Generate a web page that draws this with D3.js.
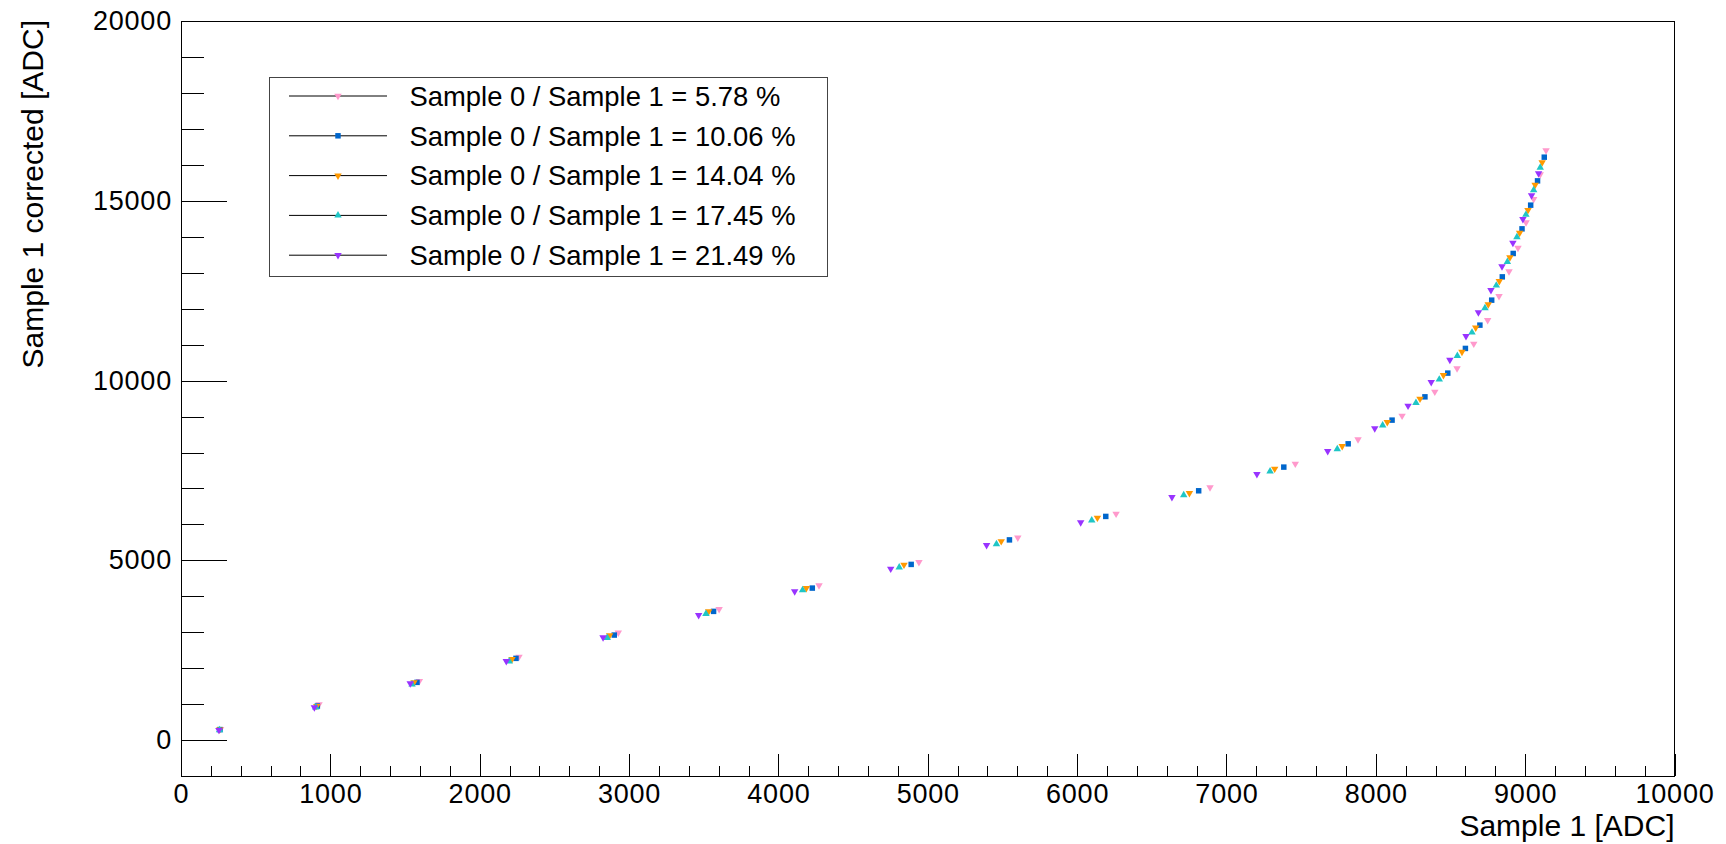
<!DOCTYPE html>
<html>
  <head>
    <meta charset="utf-8">
    <title>Sample 1 corrected vs Sample 1</title>
    <script src="https://d3js.org/d3.v7.min.js"></script>
    <style>
      body { margin: 0; background: #fff; }
      text { font-family: "Liberation Sans", Arial, Helvetica, sans-serif; fill: #000; }
      .axis path.domain { display: none; }
      .axis line { stroke: #000; shape-rendering: crispEdges; }
      .axis text { font-size: 27px; letter-spacing: 0.8px; }
      .title { font-size: 30px; }
      .legend text { font-size: 27.4px; }
    </style>
  </head>
  <body>
    <svg width="1726" height="844"></svg>
    <script>
      // legend labels, one per series
      var labels = [
        "Sample 0 / Sample 1 = 5.78 %",
        "Sample 0 / Sample 1 = 10.06 %",
        "Sample 0 / Sample 1 = 14.04 %",
        "Sample 0 / Sample 1 = 17.45 %",
        "Sample 0 / Sample 1 = 21.49 %"
      ];

      // Sample 1 [ADC] per series
      var x578  = [265, 924, 1596, 2263, 2928, 3603, 4272, 4941, 5603, 6261, 6890, 7461, 7881, 8176, 8395, 8544, 8656, 8749, 8825, 8892, 8952, 9006, 9057, 9101, 9140];
      var x1006 = [261, 913, 1580, 2243, 2901, 3566, 4227, 4889, 5547, 6192, 6814, 7384, 7815, 8109, 8329, 8482, 8600, 8697, 8776, 8847, 8920, 8979, 9037, 9083, 9128];
      var x1404 = [258, 909, 1560, 2216, 2870, 3533, 4187, 4841, 5492, 6136, 6752, 7323, 7775, 8077, 8296, 8453, 8577, 8669, 8753, 8827, 8898, 8963, 9019, 9067, 9114];
      var x1745 = [258, 902, 1547, 2198, 2854, 3515, 4162, 4809, 5460, 6098, 6714, 7292, 7742, 8046, 8269, 8425, 8546, 8644, 8731, 8807, 8881, 8945, 9005, 9057, 9101];
      var x2149 = [254, 893, 1535, 2178, 2826, 3466, 4109, 4752, 5394, 6024, 6635, 7204, 7678, 7993, 8216, 8371, 8496, 8604, 8687, 8771, 8845, 8918, 8985, 9043, 9090];

      // Sample 1 corrected [ADC] per series
      var y578  = [306, 993, 1641, 2317, 2985, 3644, 4303, 4951, 5633, 6295, 7029, 7686, 8364, 9021, 9689, 10339, 11024, 11683, 12350, 13037, 13694, 14400, 15049, 15736, 16404];
      var y1006 = [292, 946, 1605, 2273, 2921, 3580, 4228, 4887, 5569, 6222, 6935, 7594, 8242, 8901, 9549, 10209, 10896, 11544, 12239, 12887, 13538, 14223, 14882, 15558, 16217];
      var y1404 = [292, 946, 1605, 2253, 2912, 3580, 4228, 4876, 5530, 6184, 6871, 7547, 8178, 8846, 9494, 10153, 10801, 11474, 12120, 12768, 13427, 14111, 14743, 15447, 16070];
      var y1745 = [278, 910, 1549, 2189, 2846, 3513, 4172, 4804, 5452, 6111, 6815, 7474, 8095, 8754, 9382, 10033, 10690, 11341, 12017, 12648, 13305, 13992, 14617, 15299, 15930];
      var y2149 = [278, 910, 1577, 2197, 2857, 3477, 4136, 4765, 5424, 6056, 6759, 7399, 8039, 8670, 9299, 9958, 10578, 11238, 11897, 12517, 13177, 13833, 14492, 15152, 15764];

      // axis ticks
      var xMajor = d3.range(0, 10001, 1000);
      var xMinor = d3.range(0, 10001, 200).filter(function(v) { return v % 1000 !== 0; });
      var yMajor = [0, 5000, 10000, 15000, 20000];
      var yMinor = d3.range(1000, 20000, 1000).filter(function(v) { return v % 5000 !== 0; });

      var colors  = ["#ff99cc", "#0066cc", "#ff9900", "#1fc6c6", "#9933ff"];
      var markers = ["down", "square", "down", "up", "down"];
      var xs = [x578, x1006, x1404, x1745, x2149];
      var ys = [y578, y1006, y1404, y1745, y2149];

      var frame = {left: 181, right: 1674.5, top: 21.2, bottom: 776};

      var svg = d3.select("svg");

      var x = d3.scaleLinear().domain([0, 10000]).range([frame.left, frame.right]);
      var y = d3.scaleLinear().domain([-1000, 20000]).range([frame.bottom, frame.top]);

      svg.append("rect")
          .attr("x", frame.left)
          .attr("y", frame.top)
          .attr("width", frame.right - frame.left)
          .attr("height", frame.bottom - frame.top)
          .attr("fill", "none")
          .attr("stroke", "#000")
          .attr("shape-rendering", "crispEdges");

      // x axis: ticks point up into the frame
      svg.append("g")
          .attr("class", "axis")
          .attr("transform", "translate(0," + frame.bottom + ")")
          .call(d3.axisBottom(x).tickValues(xMinor).tickSize(-10).tickFormat(""));
      svg.append("g")
          .attr("class", "axis")
          .attr("transform", "translate(0," + frame.bottom + ")")
          .call(d3.axisBottom(x).tickValues(xMajor).tickSize(-22).tickPadding(7.5).tickFormat(d3.format("d")));

      // y axis
      svg.append("g")
          .attr("class", "axis")
          .attr("transform", "translate(" + frame.left + ",0)")
          .call(d3.axisLeft(y).tickValues(yMinor).tickSize(-22.5).tickFormat(""));
      svg.append("g")
          .attr("class", "axis")
          .attr("transform", "translate(" + frame.left + ",0)")
          .call(d3.axisLeft(y).tickValues(yMajor).tickSize(-45.5).tickPadding(9).tickFormat(d3.format("d")));

      svg.append("text")
          .attr("class", "title")
          .attr("x", frame.right)
          .attr("y", 836)
          .attr("text-anchor", "end")
          .text("Sample 1 [ADC]");

      svg.append("text")
          .attr("class", "title")
          .attr("transform", "translate(43,20) rotate(-90)")
          .attr("text-anchor", "end")
          .text("Sample 1 corrected [ADC]");

      function symbolPath(kind) {
        if (kind === "square") return d3.symbol().type(d3.symbolSquare).size(30)();
        return d3.symbol().type(d3.symbolTriangle).size(24)();
      }
      function rot(kind) { return kind === "down" ? " rotate(180)" : ""; }

      // points
      xs.forEach(function(xv, i) {
        var pts = xv.map(function(v, j) { return [v, ys[i][j]]; });
        svg.append("g").selectAll("path")
            .data(pts)
            .enter().append("path")
            .attr("d", symbolPath(markers[i]))
            .attr("fill", colors[i])
            .attr("transform", function(d) { return "translate(" + x(d[0]) + "," + y(d[1]) + ")" + rot(markers[i]); });
      });

      // legend
      var leg = svg.append("g").attr("class", "legend");
      leg.append("rect")
          .attr("x", 269.5).attr("y", 77.5)
          .attr("width", 558).attr("height", 199)
          .attr("fill", "#fff")
          .attr("stroke", "#444")
          .attr("shape-rendering", "crispEdges");

      var rows = leg.selectAll(".row")
          .data(labels)
          .enter().append("g")
          .attr("class", "row")
          .attr("transform", function(d, i) { return "translate(0," + (96 + i * 39.8) + ")"; });

      rows.append("line")
          .attr("x1", 289).attr("x2", 387)
          .attr("stroke", "#000")
          .attr("stroke-width", 1);
      rows.append("path")
          .attr("d", function(d, i) { return symbolPath(markers[i]); })
          .attr("fill", function(d, i) { return colors[i]; })
          .attr("transform", function(d, i) { return "translate(338,0)" + rot(markers[i]); });
      rows.append("text")
          .attr("x", 409.5)
          .attr("dy", "0.36em")
          .text(function(d) { return d; });
    </script>
  </body>
</html>
